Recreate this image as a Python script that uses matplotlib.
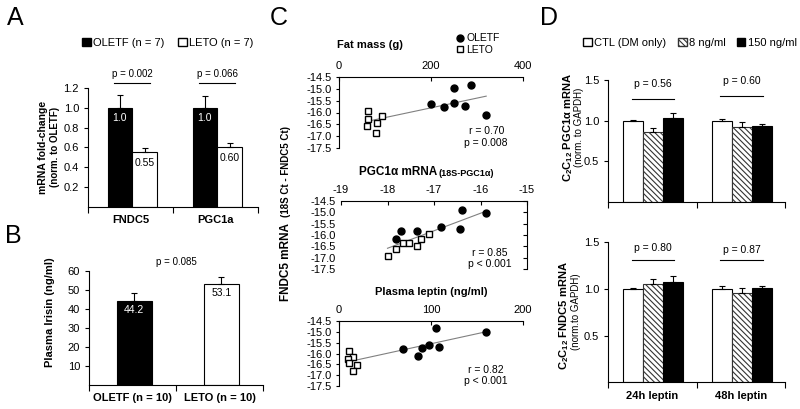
import numpy as np
import matplotlib
matplotlib.use('Agg')
import matplotlib.pyplot as plt
from matplotlib.patches import Patch
from matplotlib.lines import Line2D
from matplotlib.ticker import FormatStrFormatter

plt.rcParams['font.family'] = ['Liberation Sans', 'DejaVu Sans']
plt.rcParams['axes.unicode_minus'] = False
plt.rcParams['mathtext.fontset'] = 'custom'
plt.rcParams['mathtext.rm'] = 'Liberation Sans'
plt.rcParams['mathtext.bf'] = 'Liberation Sans:bold'
plt.rcParams['hatch.linewidth'] = 0.8

# ---- panel A: muscle mRNA ----
a_genes = ['FNDC5', 'PGC1a']
a_oletf = [1.0, 1.0]
a_oletf_err = [0.125, 0.115]
a_leto = [0.55, 0.60]
a_leto_err = [0.047, 0.05]
a_oletf_txt = ['1.0', '1.0']
a_leto_txt = ['0.55', '0.60']
a_p = ['p = 0.002', 'p = 0.066']

# ---- panel B: plasma irisin ----
b_groups = ['OLETF (n = 10)', 'LETO (n = 10)']
b_vals = [44.2, 53.1]
b_err = [3.9, 3.4]
b_p = 'p = 0.085'

# ---- panel C: correlations ----
fat_oletf_x = [199, 228, 250, 274, 251, 287, 320]
fat_oletf_y = [-15.65, -15.78, -15.61, -15.72, -14.98, -14.82, -16.10]
fat_leto_x = [62, 63, 61.6, 93.5, 82.6, 79.7]
fat_leto_y = [-15.92, -16.29, -16.57, -16.13, -16.43, -16.88]

pgc_oletf_x = [-16.40, -15.89, -16.86, -16.45, -17.72, -17.37, -17.81]
pgc_oletf_y = [-14.88, -15.04, -15.66, -15.72, -15.81, -15.82, -16.16]
pgc_leto_x = [-18.0, -17.81, -17.67, -17.54, -17.37, -17.28, -17.10]
pgc_leto_y = [-16.92, -16.60, -16.34, -16.34, -16.48, -16.17, -15.97]

lep_oletf_x = [105.4, 159.3, 69.4, 90.3, 98.2, 109, 85.6]
lep_oletf_y = [-14.84, -14.99, -15.78, -15.74, -15.61, -15.68, -16.10]
lep_leto_x = [11.1, 15.4, 9.4, 11.1, 19.8, 15.4]
lep_leto_y = [-15.88, -16.14, -16.24, -16.42, -16.54, -16.83]

c_titles = ['Fat mass (g)', None, 'Plasma leptin (ng/ml)']
c_stats = [('r = 0.70', 'p = 0.008'), ('r = 0.85', 'p < 0.001'), ('r = 0.82', 'p < 0.001')]

# ---- panel D: C2C12 leptin treatment ----
d_times = ['24h leptin', '48h leptin']
d_doses = ['CTL (DM only)', '8 ng/ml', '150 ng/ml']
d_pgc = [[1.0, 1.0], [0.86, 0.925], [1.035, 0.93]]
d_pgc_err = [[0.012, 0.02], [0.05, 0.065], [0.055, 0.03]]
d_pgc_p = ['p = 0.56', 'p = 0.60']
d_fndc = [[1.0, 1.0], [1.055, 0.96], [1.075, 1.01]]
d_fndc_err = [[0.012, 0.035], [0.055, 0.055], [0.065, 0.025]]
d_fndc_p = ['p = 0.80', 'p = 0.87']

W, H = 800, 409
fig = plt.figure(figsize=(W / 100, H / 100), dpi=100)


def add_ax(left, top, right, bottom):
    return fig.add_axes([left / W, 1 - bottom / H, (right - left) / W, (bottom - top) / H])


def ftext(x, y, s, **kw):
    fig.text(x / W, 1 - y / H, s, **kw)


def bar_axes_style(ax, ncat):
    for s in ['top', 'right']:
        ax.spines[s].set_visible(False)
    for s in ['left', 'bottom']:
        ax.spines[s].set_linewidth(0.8)
    ax.set_xlim(-0.5, ncat - 0.5)
    ax.set_xticks(np.arange(ncat + 1) - 0.5)
    ax.set_xticklabels([])
    ax.set_xticks(np.arange(ncat), minor=True)
    ax.tick_params(axis='x', which='major', length=4, width=0.8)
    ax.tick_params(axis='x', which='minor', length=0, labelsize=8, pad=6)
    ax.tick_params(axis='y', length=3, width=0.8, labelsize=8)


lw = 0.8
ekw = dict(fmt='none', ecolor='black', elinewidth=lw, capsize=2, capthick=lw)

# ================= A =================
axA = add_ax(88, 88, 258, 207)
bar_axes_style(axA, 2)
xa = np.arange(2) + 0.02
bw = 0.29
axA.bar(xa - bw / 2, a_oletf, bw, facecolor='black', edgecolor='black', lw=lw)
axA.bar(xa + bw / 2, a_leto, bw, facecolor='white', edgecolor='black', lw=lw)
axA.errorbar(xa - bw / 2, a_oletf, yerr=[np.zeros(2), a_oletf_err], **ekw)
axA.errorbar(xa + bw / 2, a_leto, yerr=[np.zeros(2), a_leto_err], **ekw)
for i in range(2):
    axA.text(xa[i] - bw / 2, a_oletf[i] - 0.1, a_oletf_txt[i], color='white', ha='center', va='center', fontsize=7.5)
    axA.text(xa[i] + bw / 2, a_leto[i] - 0.11, a_leto_txt[i], color='black', ha='center', va='center', fontsize=7.5)
    axA.plot([xa[i] - 0.21, xa[i] + 0.21], [1.25, 1.25], color='black', lw=lw, clip_on=False)
    axA.text(xa[i], 1.34, a_p[i], ha='center', va='center', fontsize=7)
axA.set_ylim(0, 1.2)
axA.set_yticks([0.2, 0.4, 0.6, 0.8, 1.0, 1.2])
axA.yaxis.set_major_formatter(FormatStrFormatter('%.1f'))
axA.set_xticklabels(a_genes, minor=True, fontweight='bold')
ftext(43, 147, 'mRNA fold-change', rotation=90, ha='center', va='center', fontsize=7.5, fontweight='bold')
ftext(55, 147, '(norm. to OLETF)', rotation=90, ha='center', va='center', fontsize=7, fontweight='bold')
fig.legend([Patch(facecolor='black', edgecolor='black'), Patch(facecolor='white', edgecolor='black')],
           ['OLETF (n = 7)', 'LETO (n = 7)'], loc='center', bbox_to_anchor=(168 / W, 1 - 43 / H),
           ncol=2, frameon=False, handlelength=0.8, handleheight=0.8, handletextpad=0.2,
           columnspacing=1.2, fontsize=8)

# ================= B =================
axB = add_ax(89, 270.7, 263, 384.7)
bar_axes_style(axB, 2)
xb = np.arange(2) + 0.02
axB.bar(xb[0], b_vals[0], 0.4, facecolor='black', edgecolor='black', lw=lw)
axB.bar(xb[1], b_vals[1], 0.4, facecolor='white', edgecolor='black', lw=lw)
axB.errorbar(xb, b_vals, yerr=[np.zeros(2), b_err], **ekw)
axB.text(xb[0], b_vals[0] - 5, f'{b_vals[0]:.1f}', color='white', ha='center', va='center', fontsize=7.5)
axB.text(xb[1], b_vals[1] - 4.7, f'{b_vals[1]:.1f}', color='black', ha='center', va='center', fontsize=7.5)
axB.text(0.5, 64.7, b_p, ha='center', va='center', fontsize=7)
axB.set_ylim(0, 60)
axB.set_yticks([10, 20, 30, 40, 50, 60])
axB.set_xticklabels(b_groups, minor=True, fontweight='bold')
ftext(50, 312, 'Plasma Irisin (ng/ml)', rotation=90, ha='center', va='center', fontsize=8, fontweight='bold')

# ================= C =================
c_boxes = [(339, 77, 523, 148), (341, 201, 527, 269), (339, 321, 523, 386)]
c_xlims = [(0, 400), (-19, -15), (0, 200)]
c_xticks = [[0, 200, 400], [-19, -18, -17, -16, -15], [0, 100, 200]]
c_data = [(fat_oletf_x, fat_oletf_y, fat_leto_x, fat_leto_y),
          (pgc_oletf_x, pgc_oletf_y, pgc_leto_x, pgc_leto_y),
          (lep_oletf_x, lep_oletf_y, lep_leto_x, lep_leto_y)]
for k in range(3):
    ax = add_ax(*c_boxes[k])
    ox, oy, lx, ly = c_data[k]
    allx = np.array(list(ox) + list(lx))
    ally = np.array(list(oy) + list(ly))
    m, b = np.polyfit(allx, ally, 1)
    xx = np.array([allx.min(), allx.max()])
    ax.plot(xx, m * xx + b, color='#808080', lw=0.8, zorder=1)
    ax.plot(lx, ly, 's', mfc='white', mec='black', mew=1.0, ms=4.6, zorder=3)
    ax.plot(ox, oy, 'o', color='black', ms=5, zorder=3)
    ax.set_xlim(*c_xlims[k])
    ax.set_ylim(-17.5, -14.5)
    ax.set_xticks(c_xticks[k])
    ax.set_yticks([-14.5, -15.0, -15.5, -16.0, -16.5, -17.0, -17.5])
    ax.yaxis.set_major_formatter(FormatStrFormatter('%.1f'))
    ax.xaxis.tick_top()
    ax.spines['bottom'].set_visible(False)
    for s in ax.spines.values():
        s.set_linewidth(0.8)
    ax.tick_params(axis='x', direction='in', length=3, width=0.8, labelsize=8, pad=4)
    if k == 1:
        ax.spines['left'].set_visible(False)
        ax.tick_params(axis='y', left=False, right=True, labelleft=True, labelright=False,
                       direction='in', length=3, width=0.8, labelsize=8, pad=4)
    else:
        ax.spines['right'].set_visible(False)
        ax.tick_params(axis='y', direction='out', length=2, width=0.8, labelsize=8, pad=3)
    r, p = c_stats[k]
    ax.text(0.80, 0.24, r, transform=ax.transAxes, ha='center', va='center', fontsize=7.5)
    ax.text(0.80, 0.07, p, transform=ax.transAxes, ha='center', va='center', fontsize=7.5)

ftext(370, 45, c_titles[0], ha='center', va='center', fontsize=8, fontweight='bold')
ftext(437, 172, 'PGC1α mRNA', ha='right', va='center', fontsize=8.5, fontweight='bold')
ftext(439, 173, '(18S-PGC1α)', ha='left', va='center', fontsize=6.5, fontweight='bold')
ftext(431, 292, c_titles[2], ha='center', va='center', fontsize=8, fontweight='bold')
ftext(286, 262, 'FNDC5 mRNA', rotation=90, ha='center', va='center', fontsize=8.5, fontweight='bold')
ftext(286, 172, '(18S Ct - FNDC5 Ct)', rotation=90, ha='center', va='center', fontsize=7, fontweight='bold')
fig.legend([Line2D([], [], ls='none', marker='o', color='black', ms=5),
            Line2D([], [], ls='none', marker='s', mfc='white', mec='black', mew=1.0, ms=4.6)],
           ['OLETF', 'LETO'], loc='center left', bbox_to_anchor=(452 / W, 1 - 44 / H),
           frameon=False, handlelength=0.6, handletextpad=0.3, labelspacing=0.15, fontsize=7.5,
           borderpad=0)

# ================= D =================
d_styles = [dict(facecolor='white', edgecolor='black'),
            dict(facecolor='white', edgecolor='#333333', hatch='\\\\\\\\\\\\'),
            dict(facecolor='black', edgecolor='black')]
dw = 0.226


def draw_d(ax, vals, errs, ptxt, line_y, txt_y):
    bar_axes_style(ax, 2)
    x = np.arange(2) + 0.01
    for j in range(3):
        xs = x + (j - 1) * dw
        ax.bar(xs, vals[j], dw, lw=lw, **d_styles[j])
        ax.errorbar(xs, vals[j], yerr=[np.zeros(2), errs[j]], **ekw)
    for i in range(2):
        ax.plot([x[i] - 0.24, x[i] + 0.24], [line_y[i], line_y[i]], color='black', lw=lw, clip_on=False)
        ax.text(x[i], txt_y[i], ptxt[i], ha='center', va='center', fontsize=7.5)
    ax.set_ylim(0, 1.5)
    ax.set_yticks([0.5, 1.0, 1.5])
    ax.yaxis.set_major_formatter(FormatStrFormatter('%.1f'))


axD1 = add_ax(608, 80.3, 785, 201.7)
draw_d(axD1, d_pgc, d_pgc_err, d_pgc_p, [1.27, 1.31], [1.46, 1.49])
axD2 = add_ax(608, 242.3, 785, 382.4)
draw_d(axD2, d_fndc, d_fndc_err, d_fndc_p, [1.31, 1.31], [1.44, 1.42])
axD2.set_xticklabels(d_times, minor=True, fontweight='bold')

ftext(568, 128, r'C$_\mathbf{2}$C$_\mathbf{12}$ PGC1α mRNA', rotation=90, ha='center', va='center',
      fontsize=8, fontweight='bold')
ftext(579, 127, '(norm. to GAPDH)', rotation=90, ha='center', va='center', fontsize=7)
ftext(564, 316, r'C$_\mathbf{2}$C$_\mathbf{12}$ FNDC5 mRNA', rotation=90, ha='center', va='center',
      fontsize=8, fontweight='bold')
ftext(576, 312, '(norm.to GAPDH)', rotation=90, ha='center', va='center', fontsize=7)

fig.legend([Patch(**d_styles[0]), Patch(**d_styles[1]), Patch(**d_styles[2])], d_doses,
           loc='center', bbox_to_anchor=(690 / W, 1 - 43 / H), ncol=3, frameon=False,
           handlelength=0.8, handleheight=0.8, handletextpad=0.2, columnspacing=1.0, fontsize=8)

# panel letters
for letter, x, y in [('A', 7, 25), ('B', 5, 243), ('C', 270, 25), ('D', 540, 25)]:
    ftext(x, y, letter, fontsize=18, va='baseline', ha='left')

fig.savefig('out.png', dpi=100)
